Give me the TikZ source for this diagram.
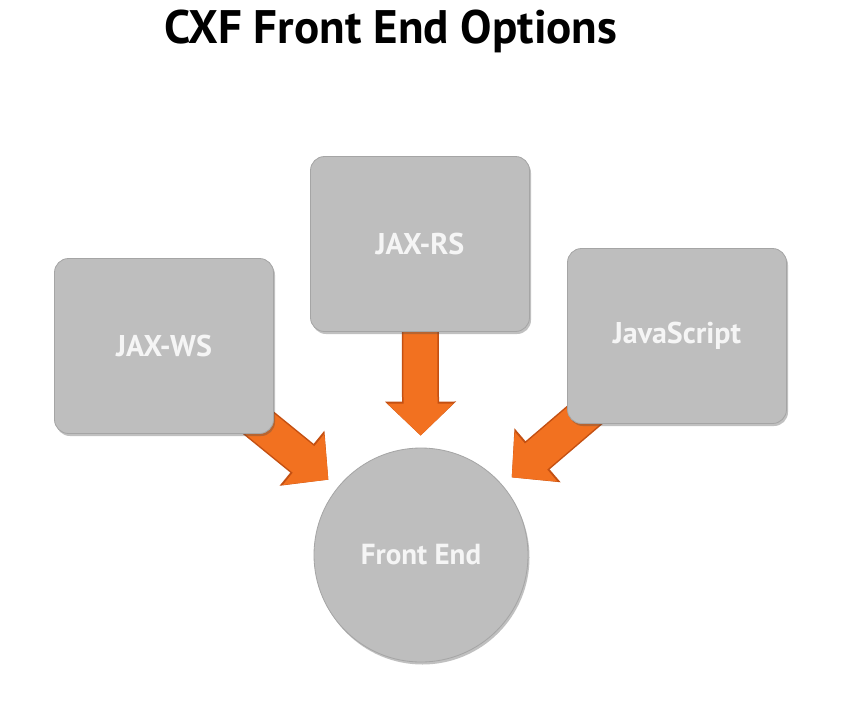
\documentclass[tikz,border=0pt]{standalone}
\usepackage{fontspec}
\setmainfont{PT Sans}
\usepackage{xcolor}
\usetikzlibrary{arrows.meta,positioning,shadows,backgrounds}

\definecolor{boxgray}{RGB}{190,190,190}
\definecolor{boxedge}{RGB}{165,165,165}
\definecolor{arroworange}{RGB}{242,113,32}
\definecolor{arrowdark}{RGB}{196,80,18}
\definecolor{labelwhite}{RGB}{245,245,245}

\tikzset{
  optionbox/.style={rectangle, rounded corners=14pt, minimum width=219pt, minimum height=175pt,
    fill=boxgray, draw=boxedge, line width=0.8pt, text=labelwhite,
    drop shadow={shadow xshift=1.5pt, shadow yshift=-2.5pt, opacity=0.35, fill=black!70},
    font=\bfseries\fontsize{30}{36}\selectfont},
  frontcircle/.style={circle, minimum size=214pt, inner sep=0pt,
    fill=boxgray, draw=boxedge, line width=0.8pt, text=labelwhite,
    drop shadow={shadow xshift=1.5pt, shadow yshift=-2.5pt, opacity=0.35, fill=black!70},
    font=\bfseries\fontsize{29}{35}\selectfont},
  flowarrow/.style={shorten >=12pt,
    preaction={draw=arrowdark, line width=37pt, -{Triangle[length=34pt,width=69pt]}},
    draw=arroworange, line width=34pt, -{Triangle[length=32pt,width=64pt]}}
}

\begin{document}
\begin{tikzpicture}[x=1pt,y=-1pt]
  \useasboundingbox (0,0) rectangle (851,704);
  % Title
  \node[font=\bfseries\fontsize{47}{54}\selectfont] (title) at (391,31) {CXF Front End Options};

  % Front end options
  \node[optionbox] (jaxws) at (164,346) {JAX-WS};
  \node[optionbox] (jaxrs) at (420,244) {JAX-RS};
  \node[optionbox] (javascript) at (677,336) {JavaScript};

  % Front end
  \node[frontcircle] (front) at (421,555) {Front End};

  % Page and arrows behind the boxes
  \begin{scope}[on background layer]
    \fill[white] (0,0) rectangle (851,704);
    \draw[flowarrow] (jaxws.center) -- (front);
    \draw[flowarrow] (jaxrs.center) -- (front);
    \draw[flowarrow] (javascript.center) -- (front);
  \end{scope}
\end{tikzpicture}
\end{document}
